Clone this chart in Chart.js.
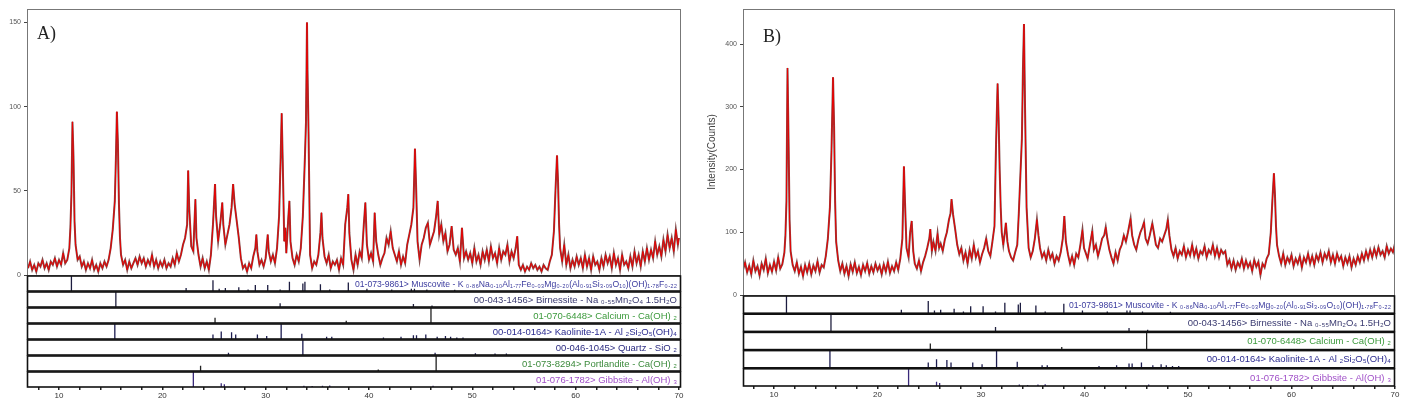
<!DOCTYPE html>
<html>
<head>
<meta charset="utf-8">
<script src="https://cdn.jsdelivr.net/npm/chart.js@4/dist/chart.umd.min.js"></script>
<style>
  body { margin: 0; background: #fff; }
  #wrap { position: relative; width: 1402px; height: 401px; }
  #panelA { position: absolute; left: 0; top: 0; }
  #panelB { position: absolute; left: 700px; top: 0; }
</style>
</head>
<body>
<div id="wrap">
  <canvas id="panelA" width="690" height="401"></canvas>
  <canvas id="panelB" width="702" height="401"></canvas>
</div>
<script>
// Difractograma A: [2theta, cuentas]
const scanA = [
  [7.0,4],[7.2,8],[7.4,3],[7.6,6],[7.8,2],[8.0,7],[8.2,5],[8.4,9],[8.6,4],[8.8,7],[9.0,3],[9.2,8],[9.4,6],[9.6,10],[9.8,5],
  [10.0,9],[10.2,6],[10.4,13],[10.6,7],[10.8,9],[11.0,16],[11.1,28],[11.2,48],[11.3,91],[11.4,70],[11.5,32],[11.6,18],[11.8,9],
  [12.0,11],[12.2,5],[12.4,8],[12.6,3],[12.8,7],[13.0,4],[13.2,9],[13.4,3],[13.6,6],[13.8,2],[14.0,7],[14.2,4],[14.4,8],[14.6,5],
  [14.8,9],[15.0,16],[15.2,27],[15.4,44],[15.5,68],[15.6,97],[15.7,78],[15.8,42],[15.9,22],[16.0,12],[16.2,6],[16.4,9],[16.6,3],
  [16.8,8],[17.0,4],[17.2,7],[17.4,10],[17.6,6],[17.8,11],[18.0,7],[18.2,10],[18.4,5],[18.6,9],[18.8,6],[19.0,12],[19.2,5],
  [19.4,9],[19.6,4],[19.8,8],[20.0,5],[20.2,9],[20.4,4],[20.6,7],[20.8,5],[21.0,10],[21.2,6],[21.4,13],[21.6,8],[21.8,12],
  [22.0,18],[22.2,22],[22.4,30],[22.5,62],[22.6,40],[22.8,17],[23.0,14],[23.1,30],[23.2,45],[23.3,22],[23.5,12],[23.7,5],
  [23.9,10],[24.1,4],[24.3,8],[24.5,3],[24.7,12],[24.9,30],[25.0,42],[25.1,54],[25.2,35],[25.4,20],[25.6,30],[25.8,43],
  [25.9,30],[26.1,18],[26.3,24],[26.5,30],[26.7,40],[26.85,54],[27.0,42],[27.2,32],[27.4,22],[27.6,10],[27.8,4],[28.0,6],
  [28.2,2],[28.4,7],[28.6,4],[28.8,11],[29.0,16],[29.1,24],[29.2,14],[29.4,6],[29.6,9],[29.8,5],[30.0,10],[30.2,24],[30.3,14],
  [30.5,8],[30.7,12],[30.9,7],[31.1,16],[31.3,35],[31.45,70],[31.55,96],[31.65,68],[31.8,20],[31.9,28],[32.0,13],[32.2,35],
  [32.3,44],[32.4,20],[32.6,10],[32.8,6],[33.0,12],[33.2,8],[33.4,16],[33.6,35],[33.8,70],[33.9,90],[34.0,150],[34.05,122],
  [34.15,85],[34.3,12],[34.5,4],[34.7,8],[34.9,6],[35.1,12],[35.3,25],[35.4,37],[35.5,22],[35.7,11],[35.9,7],[36.1,12],[36.3,4],
  [36.5,8],[36.7,6],[36.9,9],[37.1,3],[37.3,10],[37.5,6],[37.7,30],[37.9,40],[38.0,48],[38.1,25],[38.3,9],[38.5,3],[38.7,12],
  [38.9,6],[39.1,14],[39.3,10],[39.5,30],[39.65,43],[39.8,18],[40.0,9],[40.2,13],[40.4,8],[40.55,37],[40.7,20],[40.9,12],
  [41.1,6],[41.3,10],[41.5,13],[41.7,22],[41.9,18],[42.1,26],[42.3,16],[42.5,12],[42.7,8],[42.9,14],[43.1,6],[43.3,11],[43.5,7],
  [43.7,18],[43.9,24],[44.1,30],[44.3,40],[44.45,75],[44.55,55],[44.7,20],[44.9,9],[45.1,18],[45.3,22],[45.5,28],[45.7,31],
  [45.9,18],[46.1,22],[46.3,26],[46.5,35],[46.65,44],[46.8,24],[47.0,30],[47.2,20],[47.4,25],[47.6,14],[47.8,18],[48.0,29],
  [48.2,15],[48.4,12],[48.6,16],[48.8,8],[49.0,28],[49.2,10],[49.4,14],[49.6,9],[49.8,13],[50.0,7],[50.2,16],[50.4,8],[50.6,12],
  [50.8,6],[51.0,14],[51.2,9],[51.4,15],[51.6,8],[51.8,17],[52.0,10],[52.2,13],[52.4,7],[52.6,16],[52.8,9],[53.0,14],[53.2,12],
  [53.4,18],[53.6,8],[53.8,14],[54.0,10],[54.2,16],[54.35,23],[54.5,6],[54.7,3],[54.9,6],[55.1,2],[55.3,5],[55.5,3],[55.7,7],
  [55.9,4],[56.1,6],[56.3,3],[56.5,5],[56.7,2],[56.9,6],[57.1,4],[57.3,3],[57.5,8],[57.7,12],[57.9,26],[58.05,50],[58.2,71],
  [58.3,55],[58.4,30],[58.5,16],[58.7,8],[58.9,18],[59.1,6],[59.3,12],[59.5,4],[59.7,9],[59.9,5],[60.1,11],[60.3,6],[60.5,10],
  [60.7,4],[60.9,12],[61.1,5],[61.3,10],[61.5,3],[61.7,11],[61.9,6],[62.1,8],[62.3,3],[62.5,10],[62.7,5],[62.9,12],[63.1,7],
  [63.3,11],[63.5,4],[63.7,13],[63.9,6],[64.1,10],[64.3,3],[64.5,12],[64.7,6],[64.9,8],[65.1,4],[65.3,11],[65.5,5],[65.7,14],
  [65.9,7],[66.1,12],[66.3,5],[66.5,14],[66.7,8],[66.9,16],[67.1,9],[67.3,15],[67.5,10],[67.7,20],[67.9,12],[68.1,17],[68.3,11],
  [68.5,21],[68.7,14],[68.9,24],[69.1,16],[69.3,22],[69.5,14],[69.7,27],[69.9,18],[70.0,22]
];

// Difractograma B
const scanB = [
  [7.0,40],[7.2,52],[7.4,36],[7.6,47],[7.8,33],[8.0,55],[8.2,38],[8.4,46],[8.6,31],[8.8,50],[9.0,40],[9.2,58],[9.4,35],[9.6,48],
  [9.8,37],[10.0,53],[10.2,39],[10.4,60],[10.6,42],[10.8,49],[11.0,68],[11.1,95],[11.2,150],[11.3,362],[11.4,250],[11.5,120],
  [11.6,70],[11.8,48],[12.0,38],[12.2,52],[12.4,34],[12.6,45],[12.8,30],[13.0,48],[13.2,36],[13.4,50],[13.6,33],[13.8,47],
  [14.0,38],[14.2,54],[14.4,36],[14.6,48],[14.8,44],[15.0,62],[15.2,90],[15.4,140],[15.55,230],[15.7,347],[15.8,270],[15.9,150],
  [16.0,85],[16.2,55],[16.4,38],[16.6,50],[16.8,34],[17.0,46],[17.2,30],[17.4,49],[17.6,37],[17.8,52],[18.0,35],[18.2,45],
  [18.4,32],[18.6,48],[18.8,38],[19.0,51],[19.2,34],[19.4,46],[19.6,36],[19.8,50],[20.0,39],[20.2,47],[20.4,33],[20.6,49],
  [20.8,37],[21.0,53],[21.2,35],[21.4,46],[21.6,38],[21.8,52],[22.0,40],[22.2,58],[22.4,90],[22.55,205],[22.65,150],[22.8,75],
  [23.0,60],[23.15,100],[23.3,118],[23.45,70],[23.6,50],[23.8,42],[24.0,55],[24.2,38],[24.4,52],[24.6,62],[24.8,75],[25.0,90],
  [25.1,105],[25.25,70],[25.4,85],[25.6,70],[25.8,98],[25.95,75],[26.1,82],[26.3,70],[26.5,88],[26.7,100],[26.9,120],[27.05,130],
  [27.15,153],[27.3,128],[27.5,105],[27.7,80],[27.9,65],[28.1,75],[28.3,55],[28.5,68],[28.7,50],[28.9,72],[29.1,58],[29.3,80],
  [29.5,60],[29.7,70],[29.9,52],[30.1,65],[30.3,75],[30.5,90],[30.7,70],[30.9,62],[31.1,85],[31.3,110],[31.45,240],[31.6,337],
  [31.7,280],[31.8,200],[31.9,140],[32.0,100],[32.15,80],[32.3,100],[32.4,115],[32.55,85],[32.7,70],[32.9,60],[33.1,55],[33.3,68],
  [33.5,80],[33.65,130],[33.8,190],[33.95,250],[34.05,360],[34.15,432],[34.25,300],[34.4,140],[34.6,75],[34.8,60],[35.0,70],
  [35.2,90],[35.4,120],[35.55,95],[35.7,75],[35.9,60],[36.1,68],[36.3,55],[36.5,72],[36.7,58],[36.9,66],[37.1,50],[37.3,62],
  [37.5,55],[37.7,68],[37.9,90],[38.05,126],[38.2,85],[38.4,65],[38.6,50],[38.8,62],[39.0,48],[39.2,66],[39.4,60],[39.6,80],
  [39.8,104],[39.95,75],[40.1,68],[40.3,58],[40.5,78],[40.75,102],[40.9,72],[41.1,80],[41.3,62],[41.5,75],[41.7,90],[41.9,95],
  [42.05,108],[42.2,90],[42.4,72],[42.6,60],[42.8,50],[43.0,68],[43.2,55],[43.4,72],[43.6,80],[43.8,95],[44.0,85],[44.2,100],
  [44.45,122],[44.6,95],[44.8,80],[45.0,72],[45.2,88],[45.4,100],[45.6,108],[45.75,116],[45.9,90],[46.1,82],[46.3,95],[46.55,114],
  [46.7,100],[46.9,80],[47.1,75],[47.3,90],[47.5,85],[47.7,95],[47.9,105],[48.05,120],[48.2,95],[48.4,72],[48.6,62],[48.8,75],
  [49.0,58],[49.2,70],[49.4,64],[49.6,78],[49.8,60],[50.0,72],[50.2,63],[50.4,80],[50.6,62],[50.8,74],[51.0,58],[51.2,70],
  [51.4,65],[51.6,78],[51.8,60],[52.0,72],[52.2,66],[52.4,80],[52.6,62],[52.8,75],[53.0,60],[53.2,72],[53.4,66],[53.6,70],
  [53.8,48],[54.0,56],[54.2,42],[54.4,55],[54.6,40],[54.8,52],[55.0,45],[55.2,58],[55.4,42],[55.6,55],[55.8,44],[56.0,52],
  [56.2,38],[56.4,56],[56.6,45],[56.8,53],[57.0,32],[57.2,50],[57.4,44],[57.6,58],[57.8,65],[58.0,100],[58.15,150],[58.3,194],
  [58.4,160],[58.5,110],[58.6,80],[58.8,62],[59.0,50],[59.2,66],[59.4,48],[59.6,60],[59.8,52],[60.0,64],[60.2,46],[60.4,58],
  [60.6,50],[60.8,62],[61.0,44],[61.2,60],[61.4,52],[61.6,66],[61.8,50],[62.0,62],[62.2,48],[62.4,64],[62.6,55],[62.8,68],
  [63.0,52],[63.2,66],[63.4,58],[63.6,70],[63.8,52],[64.0,64],[64.2,50],[64.4,66],[64.6,55],[64.8,62],[65.0,46],[65.2,60],
  [65.4,50],[65.6,62],[65.8,44],[66.0,58],[66.2,48],[66.4,62],[66.6,52],[66.8,66],[67.0,55],[67.2,70],[67.4,58],[67.6,72],
  [67.8,60],[68.0,74],[68.2,62],[68.4,76],[68.6,64],[68.8,70],[69.0,60],[69.2,78],[69.4,66],[69.6,74],[69.8,68],[70.0,82]
];

// Fichas de referencia: [2theta, intensidad relativa]
const muscovite = [[11.2,100],[22.3,20],[24.9,70],[25.5,15],[26.1,20],[27.4,25],[28.3,10],[29.0,40],[30.2,40],[31.4,10],
  [32.3,60],[33.6,50],[33.8,60],[35.3,45],[36.2,10],[38.0,55],[39.8,15],[42.2,10],[44.1,15],[44.4,15],[45.6,10],[48.3,8]];
const birnessite = [[15.5,100],[31.4,25],[44.3,20],[46.1,10]];
const calcium = [[25.1,35],[37.8,15],[46.0,100]];
const kaolinite = [[15.4,100],[24.9,30],[25.7,50],[26.7,45],[27.1,30],[29.2,30],[30.1,20],[31.5,100],[33.5,35],[35.9,15],
  [36.4,15],[41.4,10],[43.1,15],[44.3,25],[44.6,25],[45.5,30],[46.6,15],[47.4,20],[47.9,15],[48.5,10],[49.1,10]];
const quartz = [[26.4,15],[33.6,100],[46.4,15],[50.3,12],[52.2,10],[53.3,10]];
const portlandite = [[23.7,35],[40.9,10],[46.5,100]];
const gibbsite = [[23.0,100],[25.7,25],[26.0,18],[33.7,8],[34.5,6],[35.5,8],[36.2,10],[46.2,8]];

// Marcas de los ejes
const xMinorTicks = [8, 10, 12, 14, 16, 18, 20, 22, 24, 26, 28, 30, 32, 34, 36, 38, 40,
  42, 44, 46, 48, 50, 52, 54, 56, 58, 60, 62, 64, 66, 68, 70];
const xLabelTicks = [10, 20, 30, 40, 50, 60, 70];
const yTicksA = [0, 50, 100, 150];
const yTicksB = [0, 100, 200, 300, 400];

const phaseInfo = {
  muscovite: { label: '01-073-9861> Muscovite - K \u2080.\u2088\u2086Na\u2080.\u2081\u2080Al\u2081.\u2087\u2087Fe\u2080.\u2080\u2083Mg\u2080.\u2082\u2080(Al\u2080.\u2089\u2081Si\u2083.\u2080\u2089O\u2081\u2080)(OH)\u2081.\u2087\u2088F\u2080.\u2082\u2082', color: '#3b3b9e', stick: '#1c1c40', maxWidth: 322 },
  birnessite: { label: '00-043-1456> Birnessite - Na \u2080.\u2085\u2085Mn\u2082O\u2084 1.5H\u2082O', color: '#3a3a70', stick: '#222240' },
  calcium: { label: '01-070-6448> Calcium - Ca(OH) \u2082', color: '#3c9a3c', stick: '#222222' },
  kaolinite: { label: '00-014-0164> Kaolinite-1A - Al \u2082Si\u2082O\u2085(OH)\u2084', color: '#2b2b90', stick: '#1c1c50' },
  quartz: { label: '00-046-1045> Quartz - SiO \u2082', color: '#2b2b80', stick: '#1c1c50' },
  portlandite: { label: '01-073-8294> Portlandite - Ca(OH) \u2082', color: '#3c8a3c', stick: '#222222' },
  gibbsite: { label: '01-076-1782> Gibbsite - Al(OH) \u2083', color: '#a050c8', stick: '#3a2a7a' }
};
const phaseData = { muscovite, birnessite, calcium, kaolinite, quartz, portlandite, gibbsite };

Chart.defaults.font.family = '"Liberation Sans", Arial, sans-serif';

// Convierte la lista de picos en segmentos verticales separados por null
function sticks(peaks) {
  const pts = [];
  peaks.forEach(([pos, rel]) => {
    pts.push({ x: pos, y: 0 }, { x: pos, y: rel }, { x: pos, y: null });
  });
  return pts;
}

// Marcos de las franjas, etiquetas de fase y letra del panel
const panelDecor = {
  id: 'panelDecor',
  afterDatasetsDraw(chart, args, opts) {
    const ctx = chart.ctx;
    const area = chart.chartArea;
    const main = chart.scales.y;
    ctx.save();
    ctx.strokeStyle = '#777';
    ctx.lineWidth = 1;
    ctx.strokeRect(area.left + 0.5, main.top + 0.5, area.right - area.left - 1, main.bottom - main.top);

    opts.phases.forEach(name => {
      const s = chart.scales['s_' + name];
      const info = phaseInfo[name];
      ctx.strokeStyle = '#111';
      ctx.lineWidth = 1.6;
      ctx.strokeRect(area.left + 0.5, s.top + 1, area.right - area.left - 1, s.bottom - s.top - 1);
      ctx.font = opts.labelFont;
      ctx.fillStyle = info.color;
      ctx.textAlign = 'right';
      ctx.textBaseline = 'middle';
      if (info.maxWidth) {
        ctx.fillText(info.label, area.right - 4, (s.top + s.bottom) / 2 + 1, info.maxWidth);
      } else {
        ctx.fillText(info.label, area.right - 4, (s.top + s.bottom) / 2 + 1);
      }
    });

    ctx.font = '18px "Liberation Serif", "DejaVu Serif", serif';
    ctx.fillStyle = '#222';
    ctx.textAlign = 'left';
    ctx.textBaseline = 'alphabetic';
    ctx.fillText(opts.letter, opts.letterX, opts.letterY);
    ctx.restore();
  }
};

function buildPanel(canvasId, p) {
  const ctx = document.getElementById(canvasId);
  if (!ctx) {
    console.error('No se encontró el canvas ' + canvasId);
    return;
  }

  const datasets = [
    { data: p.scan.map(([x, y]) => ({ x, y })), yAxisID: 'y', borderColor: 'rgba(100, 30, 30, 0.8)', borderWidth: 2.0, order: 2 },
    { data: p.scan.map(([x, y]) => ({ x, y })), yAxisID: 'y', borderColor: '#e80000', borderWidth: 1.0, order: 1 }
  ];
  p.phases.forEach(name => {
    datasets.push({ data: sticks(phaseData[name]), yAxisID: 's_' + name, borderColor: phaseInfo[name].stick, borderWidth: 1.3 });
  });

  // Las franjas se declaran de abajo hacia arriba; el eje principal al final queda arriba
  const scales = {
    x: {
      type: 'linear', position: 'bottom', min: p.xMin, max: p.xMax,
      afterFit: s => { s.height = p.xHeight; },
      afterBuildTicks: s => { s.ticks = xMinorTicks.map(v => ({ value: v })); },
      ticks: {
        autoSkip: false, maxRotation: 0, padding: 1, color: '#333', font: { size: 8 },
        callback: v => xLabelTicks.includes(v) ? String(v) : ''
      },
      grid: { drawOnChartArea: false, tickLength: 3, color: '#222', lineWidth: 1.5 },
      border: { display: false }
    }
  };
  p.phases.slice().reverse().forEach(name => {
    scales['s_' + name] = {
      type: 'linear', position: 'left', stack: 'panel', stackWeight: p.stripWeight,
      min: 0, max: 105,
      afterFit: s => { s.width = 0; },
      ticks: { display: false }, grid: { display: false }, border: { display: false }
    };
  });
  scales.y = {
    type: 'linear', position: 'left', stack: 'panel', stackWeight: p.mainWeight,
    min: 0, max: p.yMax,
    afterFit: s => { s.width = p.yWidth; },
    afterBuildTicks: s => { s.ticks = p.yTicks.map(v => ({ value: v })); },
    ticks: { color: '#555', font: { size: 7 }, padding: 3 },
    grid: { drawOnChartArea: false, tickLength: 3, color: '#444' },
    border: { color: '#444' },
    title: p.yTitle ? { display: true, text: p.yTitle, color: '#444', font: { size: 10 }, padding: { top: 6, bottom: 0 } } : { display: false }
  };

  try {
    new Chart(ctx, {
      type: 'line',
      data: { datasets },
      options: {
        responsive: false,
        animation: false,
        events: [],
        elements: { point: { radius: 0 }, line: { tension: 0 } },
        layout: { padding: { top: 9, right: p.padRight, left: 0, bottom: 0 } },
        plugins: {
          legend: { display: false },
          tooltip: { enabled: false },
          panelDecor: {
            phases: p.phases, letter: p.letter, letterX: p.letterX, letterY: p.letterY,
            labelFont: '9.5px "Liberation Sans", "DejaVu Sans", Arial, sans-serif'
          }
        },
        scales
      },
      plugins: [panelDecor]
    });
  } catch (error) {
    console.error('Error al crear el gráfico:', error);
  }
}

document.addEventListener('DOMContentLoaded', function () {
  buildPanel('panelA', {
    scan: scanA, letter: 'A)', letterX: 37, letterY: 39,
    phases: ['muscovite', 'birnessite', 'calcium', 'kaolinite', 'quartz', 'portlandite', 'gibbsite'],
    xMin: 6.9, xMax: 70.2, yMax: 158, yTicks: yTicksA, yWidth: 27, xHeight: 14, padRight: 9,
    mainWeight: 266, stripWeight: 16
  });
  buildPanel('panelB', {
    scan: scanB, letter: 'B)', letterX: 63, letterY: 42, yTitle: 'Intensity(Counts)',
    phases: ['muscovite', 'birnessite', 'calcium', 'kaolinite', 'gibbsite'],
    xMin: 7.0, xMax: 70.0, yMax: 456, yTicks: yTicksB, yWidth: 43, xHeight: 15, padRight: 7,
    mainWeight: 286, stripWeight: 18.2
  });
});
</script>
</body>
</html>
